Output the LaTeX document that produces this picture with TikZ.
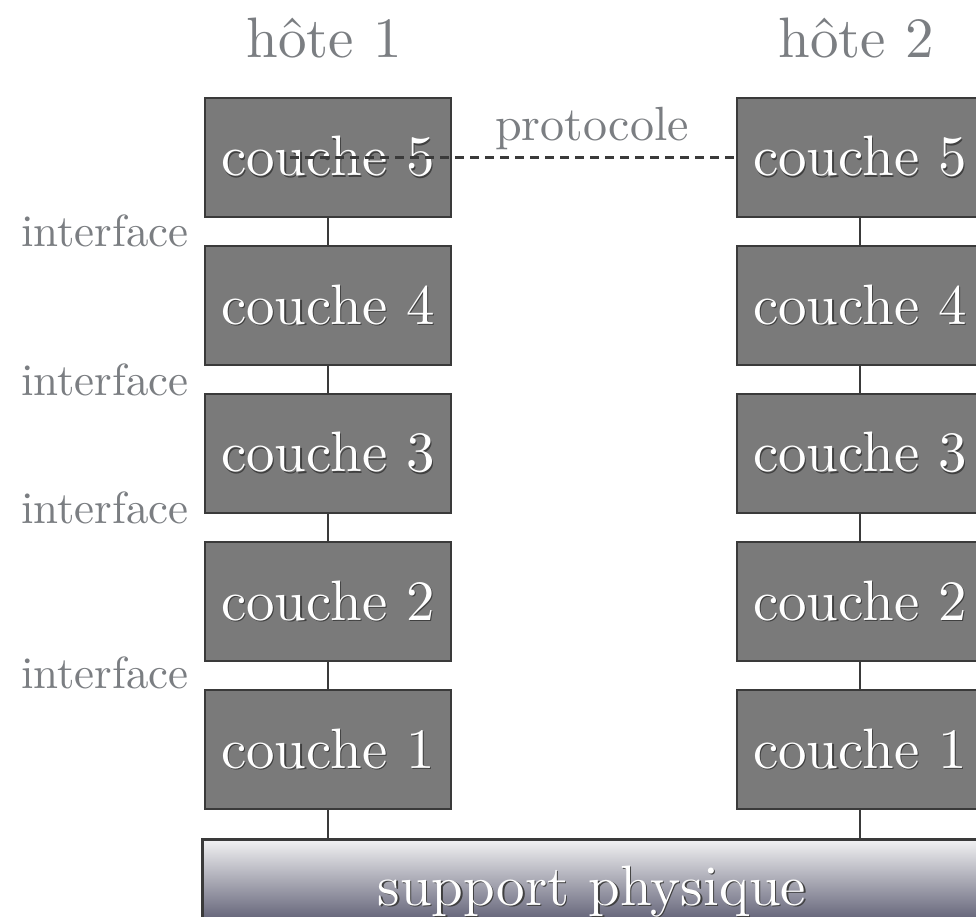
\documentclass[tikz,border=0pt]{standalone}
\usepackage{fontspec}
\setmainfont{lmroman10-regular}[Extension=.otf]
\definecolor{boxfill}{HTML}{7A7A7A}
\definecolor{boxline}{HTML}{3A3A3A}
\definecolor{labelgray}{HTML}{7B7E82}
\definecolor{suptop}{HTML}{F2F2F3}
\definecolor{supbot}{HTML}{5C5C72}
\newcommand\shadowed[1]{\leavevmode\rlap{\kern1.2pt\raisebox{-1.6pt}{\color{black!75}#1}}#1}
\tikzset{
  layer/.style={draw=boxline, line width=2.8pt, fill=boxfill, minimum width=246pt,
    minimum height=119pt, inner sep=0pt, text=white, font=\fontsize{57}{60}\selectfont},
  conn/.style={draw=boxline, line width=2.6pt},
  proto/.style={draw=boxline, line width=2.4pt, dash pattern=on 9pt off 6pt},
  lbl/.style={text=labelgray, inner sep=0pt, font=\fontsize{45}{48}\selectfont},
  protolbl/.style={text=labelgray, inner sep=0pt, font=\fontsize{48}{50}\selectfont},
  head/.style={text=labelgray, inner sep=0pt, font=\fontsize{57}{60}\selectfont},
  supbox/.style={draw=boxline, line width=2.8pt, top color=suptop, bottom color=supbot,
    minimum width=782pt, minimum height=85pt, inner sep=0pt},
  suptext/.style={text=white, inner sep=0pt, font=\fontsize{57}{60}\selectfont}
}
\begin{document}
\begin{tikzpicture}[x=1pt,y=-1pt]
\useasboundingbox (0,0) rectangle (976,916);
\clip (0,0) rectangle (976,916);
\fill[white] (0,0) rectangle (976,916);
% headings
\node[head, anchor=base] (h1) at (324,57) {hôte 1};
\node[head, anchor=base] (h2) at (856,57) {hôte 2};
% support
\node[supbox, anchor=north west] (sup) at (201,838) {};
\node[suptext, anchor=base] (suptxt) at (592,905) {\shadowed{support physique}};
% left stack
\node[layer] (l5) at (328,157.5) {\shadowed{couche 5}};
\node[layer] (l4) at (328,305.5) {\shadowed{couche 4}};
\node[layer] (l3) at (328,453.5) {\shadowed{couche 3}};
\node[layer] (l2) at (328,601.5) {\shadowed{couche 2}};
\node[layer] (l1) at (328,749.5) {\shadowed{couche 1}};
% right stack
\node[layer] (r5) at (860,157.5) {\shadowed{couche 5}};
\node[layer] (r4) at (860,305.5) {\shadowed{couche 4}};
\node[layer] (r3) at (860,453.5) {\shadowed{couche 3}};
\node[layer] (r2) at (860,601.5) {\shadowed{couche 2}};
\node[layer] (r1) at (860,749.5) {\shadowed{couche 1}};
% connectors
\draw[conn] (l5.south) -- (l4.north);
\draw[conn] (l4.south) -- (l3.north);
\draw[conn] (l3.south) -- (l2.north);
\draw[conn] (l2.south) -- (l1.north);
\draw[conn] (l1.south) -- (l1.south |- sup.north);
\draw[conn] (r5.south) -- (r4.north);
\draw[conn] (r4.south) -- (r3.north);
\draw[conn] (r3.south) -- (r2.north);
\draw[conn] (r2.south) -- (r1.north);
\draw[conn] (r1.south) -- (r1.south |- sup.north);
% interfaces
\node[lbl, anchor=base east] (i1) at (189,246) {interface};
\node[lbl, anchor=base east] (i2) at (189,395) {interface};
\node[lbl, anchor=base east] (i3) at (189,523) {interface};
\node[lbl, anchor=base east] (i4) at (189,688) {interface};
% protocol
\coordinate (pstart) at (290,157.5);
\draw[proto] (pstart) -- (r5.west);
\node[protolbl, anchor=base] (proto) at (592,140) {protocole};
\end{tikzpicture}
\end{document}
